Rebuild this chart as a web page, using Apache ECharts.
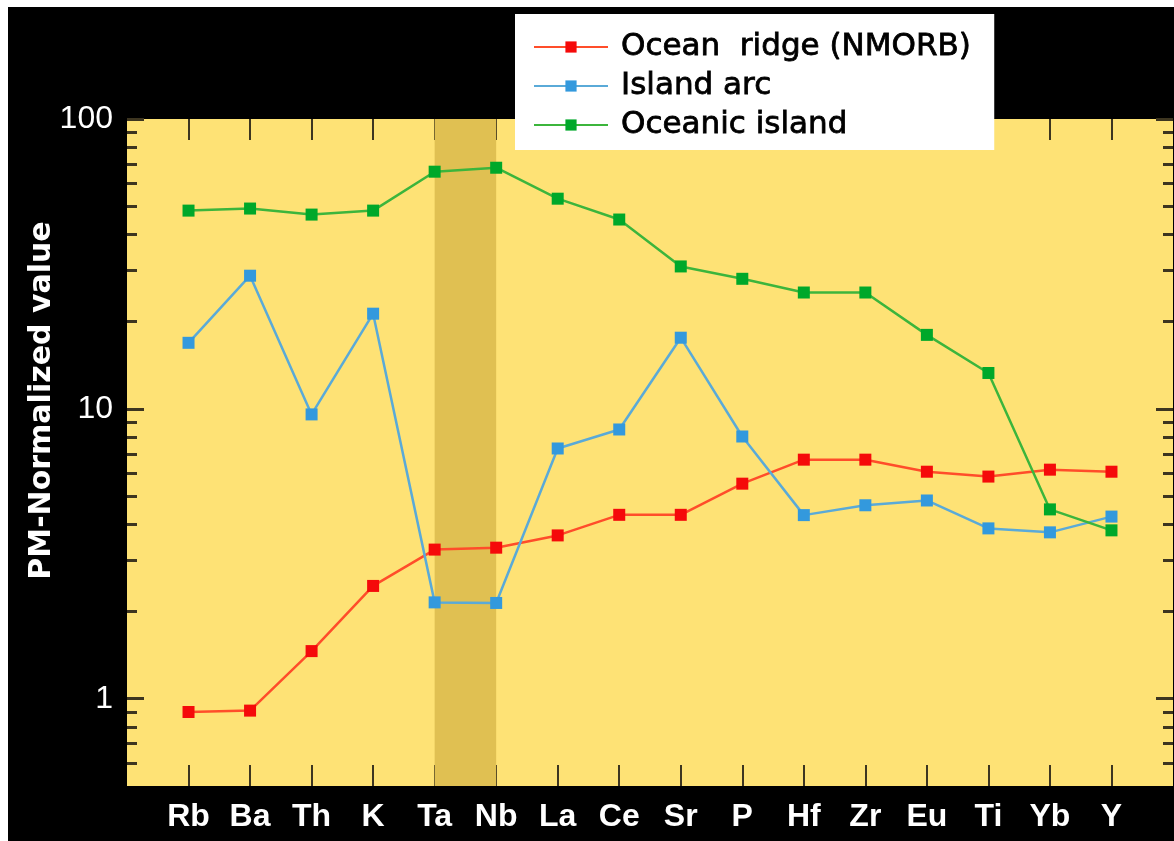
<!DOCTYPE html>
<html>
<head>
<meta charset="utf-8">
<script src="https://cdn.jsdelivr.net/npm/echarts@6/dist/echarts.min.js"></script>
<style>
  html, body { margin: 0; padding: 0; background: #fff; }
  #chart { position: absolute; left: 8px; top: 7px; width: 1166px; height: 834px; }
</style>
</head>
<body>
<div id="chart"></div>
<script>
var elements = ['Rb', 'Ba', 'Th', 'K', 'Ta', 'Nb', 'La', 'Ce', 'Sr', 'P', 'Hf', 'Zr', 'Eu', 'Ti', 'Yb', 'Y'];
var oceanRidge = [0.90, 0.91, 1.46, 2.45, 3.27, 3.32, 3.66, 4.31, 4.31, 5.52, 6.68, 6.68, 6.07, 5.84, 6.17, 6.07];
var islandArc = [16.9, 28.8, 9.57, 21.3, 2.15, 2.14, 7.30, 8.49, 17.6, 8.03, 4.30, 4.65, 4.83, 3.87, 3.75, 4.25];
var oceanicIsland = [48.3, 49.1, 46.8, 48.3, 65.8, 67.9, 53.1, 45.0, 31.0, 28.1, 25.2, 25.2, 18.0, 13.3, 4.50, 3.81];
var majorTicks = [1, 10, 100];
var minorTicks = [0.6, 0.7, 0.8, 0.9, 2, 3, 4, 5, 6, 7, 8, 9, 20, 30, 40, 50, 60, 70, 80, 90];
var bandFrom = 'Ta', bandTo = 'Nb';

var xPos = elements.map(function (e, i) { return i + 1; });
function pairs(vals) {
    return vals.map(function (v, i) { return [i + 1, v]; });
}

var tickColor = '#3d3520';
var chart = echarts.init(document.getElementById('chart'));

function xAx(pos, showLabel) {
    return {
        type: 'value',
        gridIndex: 0,
        position: pos,
        min: 0,
        max: elements.length + 1,
        interval: 1,
        splitLine: { show: false },
        axisLine: { show: false, onZero: false },
        axisTick: {
            inside: true,
            length: 21,
            customValues: xPos,
            lineStyle: { color: tickColor, width: 2 }
        },
        axisLabel: {
            show: showLabel,
            customValues: xPos,
            formatter: function (v) { return elements[v - 1] || ''; },
            color: '#fff',
            fontSize: 32,
            fontWeight: 'bold',
            fontFamily: 'Liberation Sans',
            margin: 15
        }
    };
}

// one grid carries the long decade ticks, an identical overlaid grid the short ones
function yAx(grid, pos, ticks, len, showLabel) {
    return {
        type: 'log',
        logBase: 10,
        gridIndex: grid,
        position: pos,
        offset: 0,
        min: 0.5,
        max: 100,
        splitLine: { show: false },
        axisLine: { show: false, onZero: false },
        axisTick: {
            inside: true,
            length: len,
            customValues: ticks,
            lineStyle: { color: tickColor, width: 3 }
        },
        axisLabel: {
            show: showLabel,
            customValues: majorTicks,
            color: '#fff',
            fontSize: 32,
            fontFamily: 'Liberation Sans',
            margin: 14
        }
    };
}

var yLeft = yAx(0, 'left', majorTicks, 17, true);
yLeft.name = 'PM-Normalized value';
yLeft.nameLocation = 'middle';
yLeft.nameRotate = 90;
yLeft.nameGap = 70;
yLeft.nameMoveOverlap = false;
yLeft.nameTextStyle = {
    color: '#fff',
    fontSize: 30,
    fontWeight: 'bold',
    fontFamily: 'DejaVu Sans',
    padding: [0, 0, 0, 104]
};

var plotRect = { left: 119, right: 1, top: 112, bottom: 55 };

option = {
    backgroundColor: '#000',
    animation: false,
    legend: {
        orient: 'vertical',
        left: 507,
        top: 7,
        backgroundColor: '#fff',
        padding: [17, 23, 9, 18],
        itemGap: 7,
        itemWidth: 74,
        itemHeight: 14,
        textStyle: {
            color: '#000',
            fontSize: 31,
            lineHeight: 32,
            fontFamily: 'DejaVu Sans',
            textBorderColor: '#000',
            textBorderWidth: 0.8,
            padding: [0, 0, 0, 8]
        },
        data: ['Ocean  ridge (NMORB)', 'Island arc', 'Oceanic island']
    },
    grid: [
        Object.assign({ show: true, backgroundColor: '#fee275', borderWidth: 0 }, plotRect),
        Object.assign({ show: false }, plotRect)
    ],
    xAxis: [
        xAx('bottom', true),
        xAx('top', false),
        { type: 'value', gridIndex: 1, min: 0, max: elements.length + 1, show: false }
    ],
    yAxis: [
        yLeft,
        yAx(0, 'right', majorTicks, 17, false),
        yAx(1, 'left', minorTicks, 10, false),
        yAx(1, 'right', minorTicks, 10, false)
    ],
    series: [
        {
            name: 'Ocean  ridge (NMORB)',
            type: 'line',
            symbol: 'rect',
            symbolSize: 12,
            lineStyle: { color: '#ff4d2a', width: 2.5 },
            itemStyle: { color: '#f50a0a' },
            markArea: {
                silent: true,
                itemStyle: { color: '#e0c052' },
                data: [[{ xAxis: elements.indexOf(bandFrom) + 1 }, { xAxis: elements.indexOf(bandTo) + 1 }]]
            },
            data: pairs(oceanRidge)
        },
        {
            name: 'Island arc',
            type: 'line',
            symbol: 'rect',
            symbolSize: 12,
            lineStyle: { color: '#5aaad8', width: 2.5 },
            itemStyle: { color: '#3399dd' },
            data: pairs(islandArc)
        },
        {
            name: 'Oceanic island',
            type: 'line',
            symbol: 'rect',
            symbolSize: 12,
            lineStyle: { color: '#3cb53c', width: 2.5 },
            itemStyle: { color: '#00a82a' },
            data: pairs(oceanicIsland)
        }
    ]
};

chart.setOption(option);
</script>
</body>
</html>
